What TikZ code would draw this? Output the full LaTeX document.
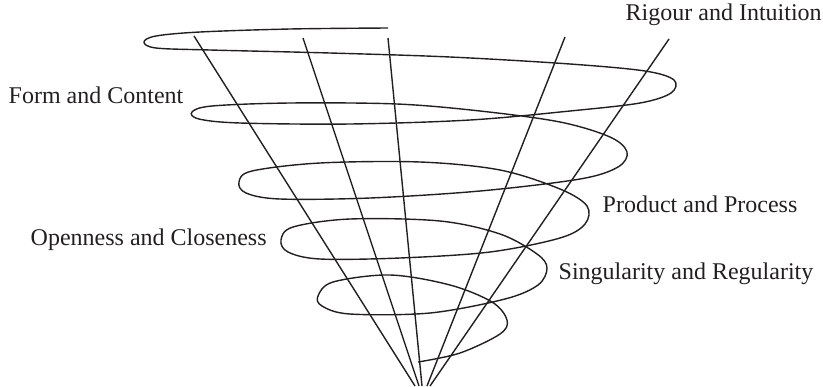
\documentclass[tikz,border=0pt]{standalone}
\usepackage{fontspec}
\setmainfont{Liberation Serif}
\usepackage{xcolor}
\definecolor{Ink}{HTML}{231F20}

\begin{document}
\begin{tikzpicture}[x=0.5pt,y=-0.5pt,line width=0.7pt,
    lbl/.style={font=\fontsize{12}{14}\selectfont,anchor=base west,inner sep=0pt,text=Ink}]
  \useasboundingbox (0,0) rectangle (823,386);

  % rays of the cone, meeting near the bottom
  \foreach \xt/\yt/\xb in {194/36/415,303/38/419,388/38/422,565/37/427,669/39/430}
    \draw[Ink] (\xt,\yt)--(\xb,386);

  % spiral, from the top down
  \draw[Ink] plot[smooth,tension=0.55] coordinates {
    (388,28) (290,29) (200,32) (156,36) (144,42) (156,48) (210,50)
    (330,53) (450,57) (570,64) (645,71) (674,80) (671,93) (640,103)
    (570,111) (470,120) (350,124) (240,123) (199,119) (192,112)
    (212,106) (290,103) (397,104) (480,111) (560,122) (610,137)
    (627,152) (618,167) (580,179) (480,191) (370,198) (280,199)
    (246,193) (239,182) (252,171) (320,163) (420,162) (500,170)
    (560,189) (587,206) (585,224) (560,238) (490,252) (400,258)
    (320,259) (288,252) (281,240) (293,227) (350,219) (440,221)
    (500,234) (537,254) (547,268) (538,285) (505,299) (430,313)
    (350,314) (322,306) (318,296) (333,282) (390,275) (450,285)
    (492,302) (507,320) (500,334) (460,353) (418,362)};

  % labels
  \node[lbl] (rigour) at (625,20) {Rigour and Intuition};
  \node[lbl] (form) at (8,103) {Form and Content};
  \node[lbl] (product) at (602,212) {Product and Process};
  \node[lbl] (openness) at (30,245) {Openness and Closeness};
  \node[lbl] (singular) at (558,279) {Singularity and Regularity};
\end{tikzpicture}
\end{document}
